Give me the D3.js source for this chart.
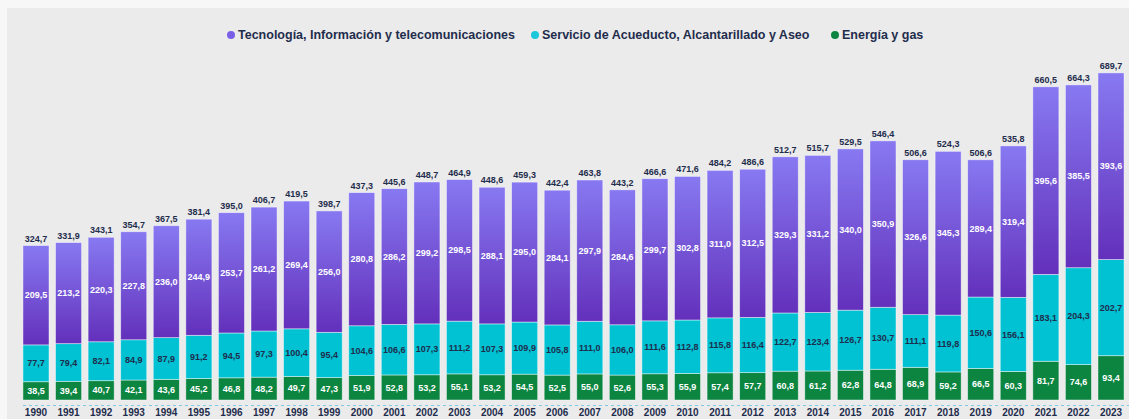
<!DOCTYPE html>
<html>
<head>
<meta charset="utf-8">
<script src="https://cdn.jsdelivr.net/npm/d3@7"></script>
<style>
  html, body { margin: 0; padding: 0; background: #f7f7f7; }
  svg { display: block; font-family: 'Liberation Sans', Arial, sans-serif; }
</style>
</head>
<body>
<svg id="chart"></svg>
<script>
// Data
const years = d3.range(1990, 2024).map(String)
const energia = [38.5, 39.4, 40.7, 42.1, 43.6, 45.2, 46.8, 48.2, 49.7, 47.3, 51.9, 52.8, 53.2, 55.1, 53.2, 54.5, 52.5, 55.0, 52.6, 55.3, 55.9, 57.4, 57.7, 60.8, 61.2, 62.8, 64.8, 68.9, 59.2, 66.5, 60.3, 81.7, 74.6, 93.4]
const acueducto = [77.7, 79.4, 82.1, 84.9, 87.9, 91.2, 94.5, 97.3, 100.4, 95.4, 104.6, 106.6, 107.3, 111.2, 107.3, 109.9, 105.8, 111.0, 106.0, 111.6, 112.8, 115.8, 116.4, 122.7, 123.4, 126.7, 130.7, 111.1, 119.8, 150.6, 156.1, 183.1, 204.3, 202.7]
const tecnologia = [209.5, 213.2, 220.3, 227.8, 236.0, 244.9, 253.7, 261.2, 269.4, 256.0, 280.8, 286.2, 299.2, 298.5, 288.1, 295.0, 284.1, 297.9, 284.6, 299.7, 302.8, 311.0, 312.5, 329.3, 331.2, 340.0, 350.9, 326.6, 345.3, 289.4, 319.4, 395.6, 385.5, 393.6]
const totales = [324.7, 331.9, 343.1, 354.7, 367.5, 381.4, 395.0, 406.7, 419.5, 398.7, 437.3, 445.6, 448.7, 464.9, 448.6, 459.3, 442.4, 463.8, 443.2, 466.6, 471.6, 484.2, 486.6, 512.7, 515.7, 529.5, 546.4, 506.6, 524.3, 506.6, 535.8, 660.5, 664.3, 689.7]
const seriesNames = ['Tecnología, Información y telecomunicaciones', 'Servicio de Acueducto, Alcantarillado y Aseo', 'Energía y gas']

const width = 1129
const height = 419
const navy = '#1f2d4d'
const fmt = (v) => d3.format('.1f')(v).replace('.', ',')

const rows = years.map((y, i) => ({
  year: y, energia: energia[i], acueducto: acueducto[i], tecnologia: tecnologia[i], total: totales[i],
}))

const svg = d3.select('#chart').attr('width', width).attr('height', height)

// panel
svg.append('rect').attr('x', 7).attr('y', 8).attr('width', width - 7).attr('height', height - 8).attr('fill', '#ebebeb')

const defs = svg.append('defs')
const grad = defs.append('linearGradient').attr('id', 'tech-fill').attr('x1', 0).attr('y1', 0).attr('x2', 0).attr('y2', 1)
grad.append('stop').attr('offset', '0%').attr('stop-color', '#8779f1')
grad.append('stop').attr('offset', '100%').attr('stop-color', '#6330bb')

const x = d3.scaleBand().domain(years).range([19.7, 1127.3]).paddingInner(0.2).paddingOuter(0.1)
const y = d3.scaleLinear().domain([0, 700]).range([400, 68])

const keys = ['energia', 'acueducto', 'tecnologia']
const fills = { energia: '#0b8540', acueducto: '#00c2d3', tecnologia: 'url(#tech-fill)' }
const labelColor = { energia: '#ffffff', acueducto: navy, tecnologia: '#ffffff' }
const stacked = d3.stack().keys(keys)(rows)

// Bars
const layers = svg.append('g').selectAll('g').data(stacked).join('g')
layers.selectAll('rect')
  .data((d) => d.map((p) => Object.assign(p, { key: d.key })))
  .join('rect')
  .attr('x', (d) => x(d.data.year))
  .attr('y', (d) => y(d[1]))
  .attr('width', x.bandwidth())
  .attr('height', (d) => y(d[0]) - y(d[1]))
  .attr('fill', (d) => fills[d.key])
  .attr('stroke', 'rgba(255,255,255,0.55)')
  .attr('stroke-width', 0.8)

// Segment labels
layers.selectAll('text')
  .data((d) => d)
  .join('text')
  .attr('x', (d) => x(d.data.year) + x.bandwidth() / 2)
  .attr('y', (d) => (y(d[0]) + y(d[1])) / 2)
  .attr('dy', '0.35em')
  .attr('text-anchor', 'middle')
  .attr('font-size', 9)
  .attr('font-weight', 'bold')
  .attr('fill', (d) => labelColor[d.key])
  .text((d) => fmt(d.data[d.key]))

// Totals
svg.append('g').selectAll('text').data(rows).join('text')
  .attr('x', (d) => x(d.year) + x.bandwidth() / 2)
  .attr('y', (d) => y(d.energia + d.acueducto + d.tecnologia) - 4)
  .attr('text-anchor', 'middle')
  .attr('font-size', 9)
  .attr('font-weight', 'bold')
  .attr('fill', navy)
  .text((d) => fmt(d.total))

// Baseline (dashed) and year axis
svg.append('line').attr('x1', 23).attr('x2', width).attr('y1', 405.5).attr('y2', 405.5)
  .attr('stroke', '#7cc8e6').attr('stroke-width', 1).attr('stroke-dasharray', '3,3')

const xAxis = svg.append('g').attr('transform', 'translate(0,405)')
  .call(d3.axisBottom(x).tickSize(0).tickPadding(4))
xAxis.select('.domain').remove()
xAxis.selectAll('text').attr('font-size', 10).attr('font-weight', 'bold').attr('fill', navy)
  .attr('font-family', "'Liberation Sans', Arial, sans-serif")

// Legend
const legendColors = ['#7b5ee6', '#1cc7db', '#0b8540']
const legendX = [231, 535, 835]
const legend = svg.append('g').selectAll('g').data(seriesNames).join('g')
  .attr('transform', (d, i) => `translate(${legendX[i]},35)`)
legend.append('circle').attr('r', 4).attr('fill', (d, i) => legendColors[i])
legend.append('text').attr('x', 7).attr('dy', '0.35em')
  .attr('font-size', 12.5).attr('font-weight', 'bold').attr('fill', navy)
  .text((d) => d)
</script>
</body>
</html>
